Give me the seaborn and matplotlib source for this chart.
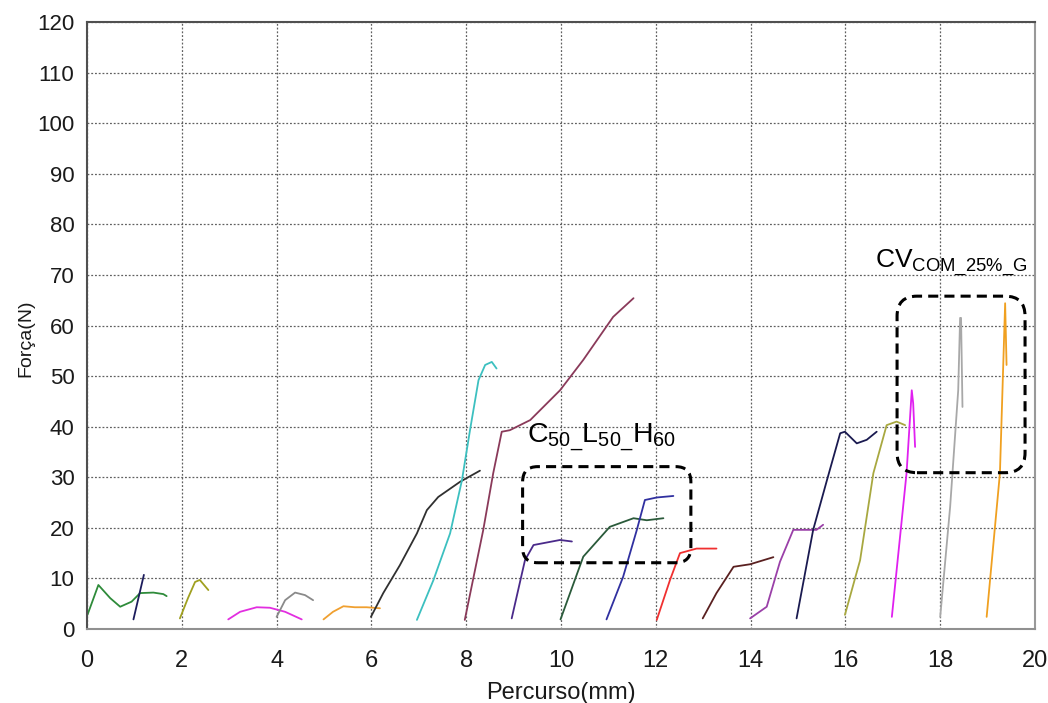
import numpy as np
import pandas as pd
import matplotlib
matplotlib.use("Agg")
import matplotlib.pyplot as plt
from matplotlib.patches import FancyBboxPatch
import seaborn as sns

# Force x displacement curves, one per specimen (displacement in mm, force in N)
c01_x = [0.01, 0.24, 0.49, 0.70, 0.94, 1.12, 1.40, 1.61, 1.68]
c01_y = [2.8, 8.7, 6.1, 4.4, 5.4, 7.1, 7.2, 6.9, 6.5]
c02_x = [0.98, 1.20]
c02_y = [1.9, 10.7]
c03_x = [1.96, 2.13, 2.28, 2.38, 2.56]
c03_y = [2.1, 6.1, 9.3, 9.7, 7.7]
c04_x = [2.98, 3.23, 3.58, 3.86, 4.18, 4.53]
c04_y = [1.9, 3.4, 4.3, 4.2, 3.4, 1.9]
c05_x = [4.00, 4.18, 4.39, 4.60, 4.77]
c05_y = [2.4, 5.7, 7.2, 6.7, 5.7]
c06_x = [4.99, 5.19, 5.41, 5.65, 5.90, 6.18]
c06_y = [1.9, 3.4, 4.5, 4.3, 4.3, 4.1]
c07_x = [5.99, 6.25, 6.60, 6.96, 7.17, 7.41, 7.87, 8.29]
c07_y = [2.4, 7.1, 12.6, 18.9, 23.5, 26.1, 29.1, 31.3]
c08_x = [6.96, 7.31, 7.66, 7.91, 8.08, 8.26, 8.40, 8.54, 8.64]
c08_y = [1.8, 9.7, 18.9, 29.4, 39.3, 49.2, 52.2, 52.8, 51.5]
c09_x = [7.97, 8.36, 8.57, 8.75, 8.92, 9.35, 9.98, 10.47, 11.10, 11.53]
c09_y = [1.8, 19.6, 30.8, 39.0, 39.3, 41.3, 47.2, 53.2, 61.7, 65.4]
c10_x = [8.96, 9.24, 9.42, 9.98, 10.23]
c10_y = [2.1, 13.6, 16.6, 17.6, 17.3]
c11_x = [9.99, 10.47, 11.03, 11.53, 11.81, 12.16]
c11_y = [1.9, 14.3, 20.2, 21.9, 21.5, 21.9]
c12_x = [10.96, 11.31, 11.60, 11.77, 12.02, 12.37]
c12_y = [1.9, 10.3, 19.6, 25.5, 26.0, 26.3]
c13_x = [12.02, 12.30, 12.51, 12.86, 13.28]
c13_y = [1.8, 9.7, 15.0, 15.9, 15.9]
c14_x = [12.99, 13.28, 13.64, 13.99, 14.48]
c14_y = [2.1, 7.1, 12.3, 12.8, 14.2]
c15_x = [13.99, 14.34, 14.62, 14.90, 15.39, 15.53]
c15_y = [2.1, 4.4, 13.3, 19.6, 19.6, 20.6]
c16_x = [14.97, 15.32, 15.61, 15.89, 15.99, 16.24, 16.45, 16.66]
c16_y = [2.1, 19.6, 29.4, 38.7, 39.0, 36.7, 37.4, 39.0]
c17_x = [15.99, 16.31, 16.59, 16.87, 17.08, 17.26]
c17_y = [2.8, 13.6, 30.8, 40.3, 41.0, 40.3]
c18_x = [16.98, 17.29, 17.40, 17.43, 17.47]
c18_y = [2.4, 30.8, 47.2, 44.6, 36.0]
c19_x = [18.00, 18.21, 18.38, 18.42, 18.44, 18.47]
c19_y = [2.4, 24.2, 47.2, 61.5, 61.5, 43.9]
c20_x = [18.98, 19.26, 19.37, 19.40]
c20_y = [2.4, 30.8, 64.4, 52.2]

curve_colors = [
    "#2e8b3a", "#1c1c5c", "#a0a020", "#e22ee0", "#8a8a8a",
    "#f0a030", "#303030", "#3cc0c0", "#8a3a5a", "#4a2a8a",
    "#2a5a3a", "#3030a0", "#f03030", "#5a2020", "#9a40a8",
    "#1a1a50", "#a8a840", "#e020f0", "#a8a8a8", "#f0a020",
]

curves = [
    (c01_x, c01_y), (c02_x, c02_y), (c03_x, c03_y), (c04_x, c04_y),
    (c05_x, c05_y), (c06_x, c06_y), (c07_x, c07_y), (c08_x, c08_y),
    (c09_x, c09_y), (c10_x, c10_y), (c11_x, c11_y), (c12_x, c12_y),
    (c13_x, c13_y), (c14_x, c14_y), (c15_x, c15_y), (c16_x, c16_y),
    (c17_x, c17_y), (c18_x, c18_y), (c19_x, c19_y), (c20_x, c20_y),
]

x_ticks = [0, 2, 4, 6, 8, 10, 12, 14, 16, 18, 20]
y_ticks = [0, 10, 20, 30, 40, 50, 60, 70, 80, 90, 100, 110, 120]

# Highlighted groups: (x0, x1, y0, y1) plus their labels
box_group1 = (9.19, 12.74, 13.1, 32.1)
box_group2 = (17.09, 19.79, 30.9, 65.8)
label_group1 = r"$\mathrm{C_{50\_}L_{50\_}H_{60}}$"
label_group2 = r"$\mathrm{CV_{COM\_25\%\_G}}$"

rows = []
for i, (xs, ys) in enumerate(curves):
    for xv, yv in zip(xs, ys):
        rows.append({"curve": f"c{i + 1:02d}", "x": xv, "y": yv})
df = pd.DataFrame(rows)

sns.set_theme(style="white")
plt.rcParams["font.family"] = ["Liberation Sans", "DejaVu Sans"]
plt.rcParams["mathtext.fontset"] = "custom"
plt.rcParams["mathtext.rm"] = "Liberation Sans"
plt.rcParams["mathtext.it"] = "Liberation Sans:italic"
plt.rcParams["mathtext.bf"] = "Liberation Sans:bold"

fig = plt.figure(figsize=(10.48, 7.03), dpi=100)
ax = fig.add_axes([87 / 1048, 1 - 629 / 703, (1035 - 87) / 1048, (629 - 22) / 703])

sns.lineplot(
    data=df, x="x", y="y", hue="curve",
    palette=curve_colors, sort=False, estimator=None,
    legend=False, linewidth=1.3, ax=ax,
)

ax.set_xlim(0, 20)
ax.set_ylim(0, 120)
ax.set_xticks(x_ticks)
ax.set_yticks(y_ticks)
ax.set_xticklabels([str(t) for t in x_ticks],
                   family=["Liberation Sans Narrow", "Liberation Sans"], fontsize=17, color="#1a1a1a")
ax.set_yticklabels([str(t) for t in y_ticks], fontsize=16, color="#1a1a1a")
ax.tick_params(axis="x", length=0, pad=15)
ax.tick_params(axis="y", length=0, pad=9)

ax.grid(True, color="#606060", linestyle=(0, (1.5, 1.5)), linewidth=0.9)
ax.set_axisbelow(True)

for side, col in (("left", "#505050"), ("top", "#505050"),
                  ("right", "#999999"), ("bottom", "#909090")):
    ax.spines[side].set_visible(True)
    ax.spines[side].set_color(col)
    ax.spines[side].set_linewidth(1.5)

ax.set_xlabel("Percurso(mm)", fontsize=17, color="#1a1a1a",
              family=["Liberation Sans Narrow", "Liberation Sans"])
ax.xaxis.set_label_coords(0.5, -0.088)
ax.set_ylabel("Força(N)", fontsize=14, color="#1a1a1a")
ax.yaxis.set_label_coords(-0.055, 0.479)

# Dashed rounded frames around the highlighted groups
aspect = 9.37
for (x0, x1, y0, y1), r in ((box_group1, 0.32), (box_group2, 0.42)):
    patch = FancyBboxPatch(
        (x0, y0), x1 - x0, y1 - y0,
        boxstyle=f"round,pad=0,rounding_size={r}",
        mutation_aspect=aspect, fill=False, edgecolor="black",
        linewidth=2.2, linestyle=(0, (3.3, 2.0)), zorder=5,
    )
    ax.add_patch(patch)

ax.text(9.28, 37.0, label_group1, fontsize=20.5, color="black", va="baseline", ha="left")
ax.text(16.62, 71.3, label_group2, fontsize=19, color="black", va="baseline", ha="left")

fig.savefig("out.png", dpi=100)
